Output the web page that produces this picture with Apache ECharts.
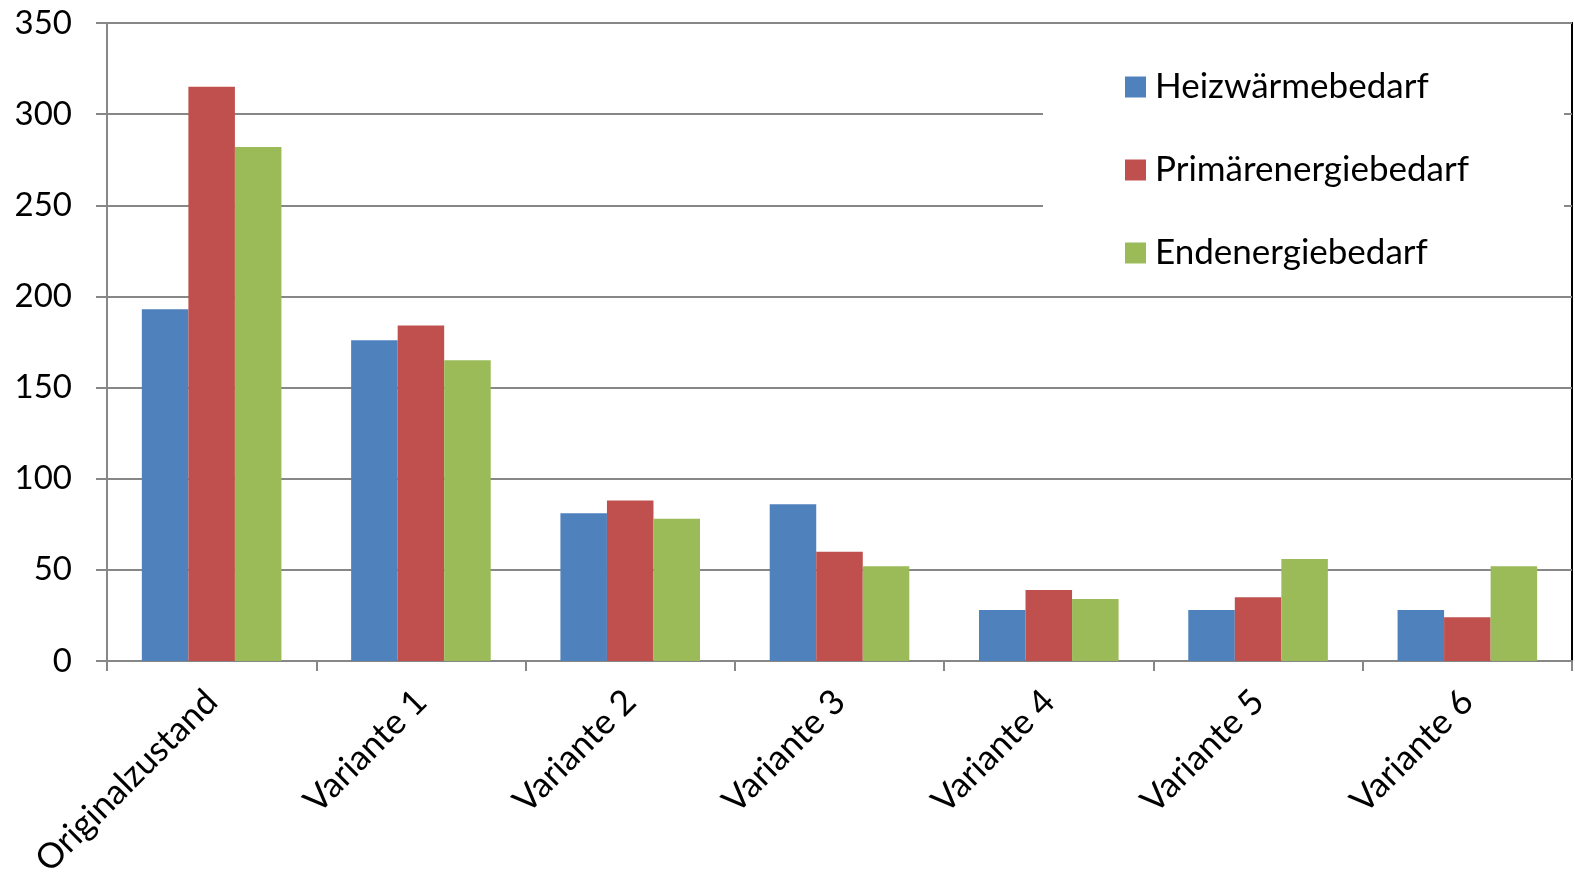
<!DOCTYPE html>
<html>
<head>
<meta charset="utf-8">
<script src="https://cdn.jsdelivr.net/npm/echarts@6/dist/echarts.min.js"></script>
<style>
html,body{margin:0;padding:0;background:#fff;}
#chart{width:1575px;height:876px;}
</style>
</head>
<body>
<div id="chart"></div>
<script>
const categories = ['Originalzustand','Variante 1','Variante 2','Variante 3','Variante 4','Variante 5','Variante 6'];
const seriesNames = ['Heizwärmebedarf','Primärenergiebedarf','Endenergiebedarf'];
const heizwaerme = [193, 176, 81, 86, 28, 28, 28];
const primaerenergie = [315, 184, 88, 60, 39, 35, 24];
const endenergie = [282, 165, 78, 52, 34, 56, 52];
const yTicks = [0, 50, 100, 150, 200, 250, 300, 350];

const colors = ['#4F81BD', '#C0504D', '#9BBB59'];
const font = 'Lato';
const gridGray = '#878787';

const chart = echarts.init(document.getElementById('chart'));
chart.setOption({
  animation: false,
  backgroundColor: '#fff',
  color: colors,
  grid: {
    left: 107, right: 3, top: 23, bottom: 215,
    outerBoundsMode: 'none', containLabel: false,
    show: true, borderColor: '#000', borderWidth: 2, backgroundColor: 'transparent'
  },
  legend: {
    orient: 'vertical',
    left: 1043, top: 37,
    padding: [30, 95, 10, 82],
    backgroundColor: '#fff',
    itemWidth: 21, itemHeight: 21, itemGap: 43,
    icon: 'rect',
    textStyle: { fontFamily: font, fontSize: 35, color: '#000', lineHeight: 40, padding: [0,0,0,4] },
    data: seriesNames
  },
  xAxis: {
    type: 'category',
    data: categories,
    axisLine: { lineStyle: { color: gridGray, width: 2 } },
    axisTick: { show: true, length: 10, lineStyle: { color: gridGray, width: 2 } },
    axisLabel: { rotate: 45, margin: 35, fontFamily: font, fontSize: 35, color: '#000', interval: 0 }
  },
  yAxis: {
    type: 'value',
    min: yTicks[0], max: yTicks[yTicks.length - 1], interval: 50,
    axisLine: { show: true, lineStyle: { color: gridGray, width: 2 } },
    axisTick: { show: true, length: 11, lineStyle: { color: gridGray, width: 2 } },
    splitLine: { lineStyle: { color: gridGray, width: 2 } },
    axisLabel: { margin: 35, fontFamily: font, fontSize: 33, color: '#000' }
  },
  series: [
    { name: seriesNames[0], type: 'bar', data: heizwaerme, barGap: '0%', barCategoryGap: '33.3%' },
    { name: seriesNames[1], type: 'bar', data: primaerenergie, barGap: '0%', barCategoryGap: '33.3%' },
    { name: seriesNames[2], type: 'bar', data: endenergie, barGap: '0%', barCategoryGap: '33.3%' }
  ]
});
</script>
</body>
</html>
